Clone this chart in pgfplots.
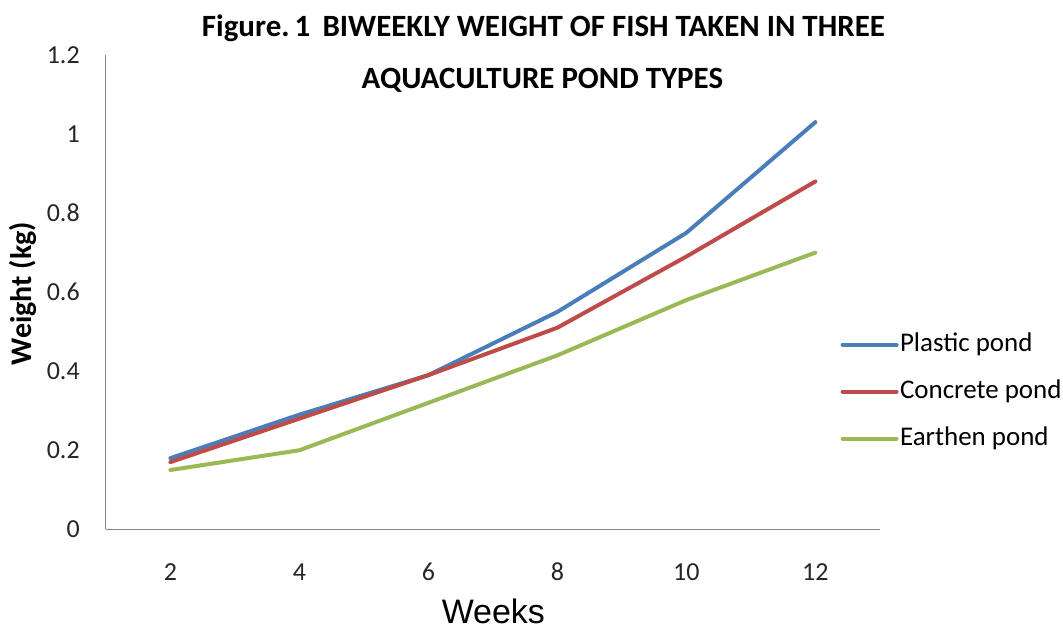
\documentclass[border=0pt]{standalone}
\usepackage{pgfplots}
\pgfplotsset{compat=1.18}
\usepackage{fontspec}
\setmainfont{Carlito}
\newfontfamily\arialfont{Liberation Sans}
\definecolor{cBlue}{HTML}{4A7EBB}
\definecolor{cRed}{HTML}{BE4B48}
\definecolor{cGreen}{HTML}{98B954}
\definecolor{cAxis}{HTML}{868686}
\begin{document}
\begin{tikzpicture}
\begin{axis}[
  at={(0,0)}, anchor=south west,
  scale only axis,
  width=775bp, height=475bp,
  xmin=1, xmax=13, ymin=0, ymax=1.2,
  xtick={2,4,6,8,10,12},
  ytick={0,0.2,0.4,0.6,0.8,1,1.2},
  axis lines*=left,
  axis line style={draw=cAxis, line width=1bp},
  major tick length=0pt,
  /pgf/number format/assume math mode=true,
  tick label style={font=\fontsize{26bp}{30bp}\selectfont, text=black!85},
  xticklabel style={anchor=base},
  xticklabel shift=51bp,
  yticklabel style={anchor=east, inner sep=0pt},
  yticklabel shift=26bp,
  xlabel={Weeks},
  xlabel style={font=\arialfont\fontsize{34bp}{40bp}\selectfont, at={(axis description cs:0.5006,-0.173)}, anchor=center},
  ylabel={Weight (kg)},
  ylabel style={font=\bfseries\fontsize{30bp}{34bp}\selectfont, at={(axis description cs:-0.1074,0.497)}, anchor=center},
  clip=false,
  legend style={at={(axis description cs:0.949,0.29)}, anchor=west, draw=none, fill=none,
    font=\fontsize{27bp}{31bp}\selectfont, row sep=20bp, inner sep=0pt,
    nodes={inner xsep=1.5bp, inner ysep=0pt, text height=20bp, text depth=7bp}},
  legend cell align=left,
  legend image code/.code={\draw[#1] (0bp,0bp) -- (54bp,0bp);},
  every axis plot/.append style={line width=4bp, line join=round, line cap=round},
]
\addplot[cBlue] coordinates {(2,0.18) (4,0.29) (6,0.39) (8,0.55) (10,0.75) (12,1.03)};
\addlegendentry{Plastic pond}
\addplot[cRed] coordinates {(2,0.17) (4,0.28) (6,0.39) (8,0.51) (10,0.69) (12,0.88)};
\addlegendentry{Concrete pond}
\addplot[cGreen] coordinates {(2,0.15) (4,0.20) (6,0.32) (8,0.44) (10,0.58) (12,0.70)};
\addlegendentry{Earthen pond}
\node[font=\bfseries\fontsize{31bp}{35bp}\selectfont, anchor=center] at (axis description cs:0.5653,1.0568) {Figure.\,1~\,BIWEEKLY WEIGHT OF FISH TAKEN IN THREE};
\node[font=\bfseries\fontsize{31bp}{35bp}\selectfont, anchor=center] at (axis description cs:0.5640,0.9474) {AQUACULTURE POND TYPES};
\end{axis}
\path[use as bounding box] (-106bp,-101bp) rectangle (957bp,530bp);
\end{tikzpicture}
\end{document}
